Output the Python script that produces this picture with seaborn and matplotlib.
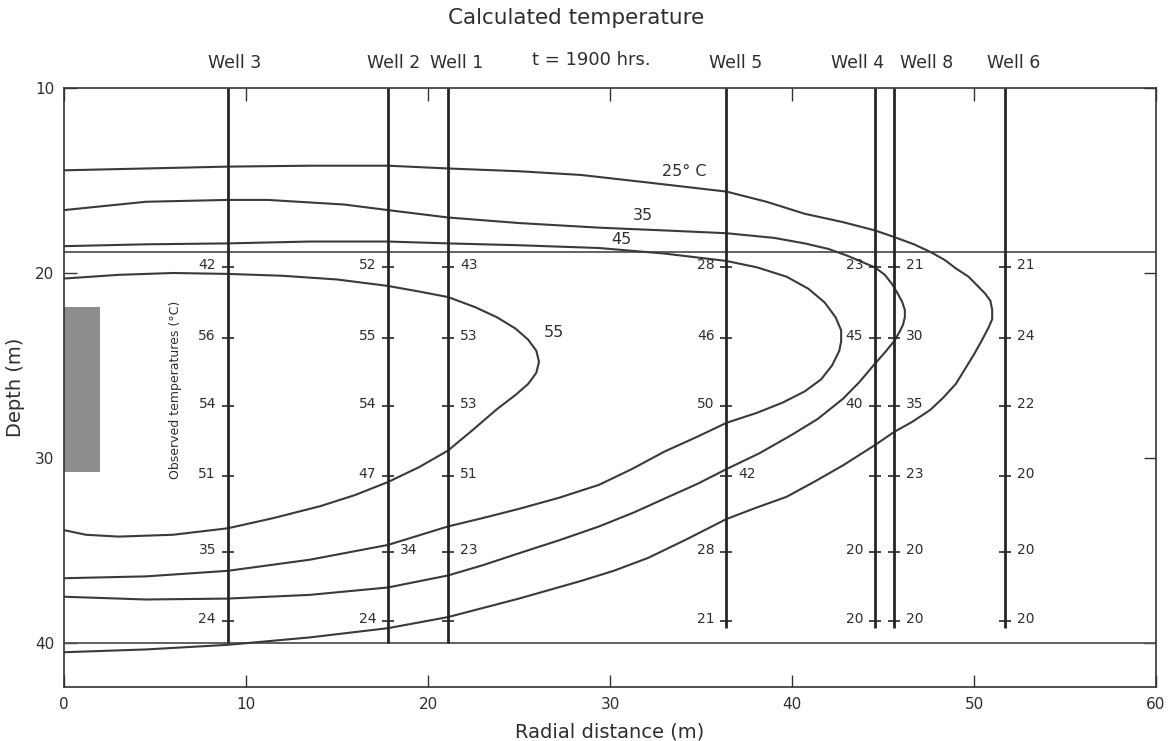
import matplotlib
matplotlib.use("Agg")
import matplotlib.pyplot as plt
import matplotlib.transforms as mtransforms
from matplotlib.patches import Rectangle
import pandas as pd
import seaborn as sns

# ---------------- data ----------------
well_names = ["Well 3", "Well 2", "Well 1", "Well 5", "Well 4", "Well 8", "Well 6"]
well_x = [9.0, 17.8, 21.1, 36.4, 44.56, 45.6, 51.7]
well_bottom = [40.0, 40.0, 40.0, 39.2, 39.2, 39.2, 39.2]
well_label_x = [9.4, 18.1, 21.6, 36.9, 43.6, 47.4, 52.2]

obs_depth = [19.7, 23.5, 27.2, 31.0, 35.1, 38.8]
obs_w3 = [42, 56, 54, 51, 35, 24]
obs_w2 = [52, 55, 54, 47, 34, 24]
obs_w1 = [43, 53, 53, 51, 23, None]
obs_w5 = [28, 46, 50, 42, 28, 21]
obs_w4 = [23, 45, 40, None, 20, 20]
obs_w8 = [21, 30, 35, 23, 20, 20]
obs_w6 = [21, 24, 22, 20, 20, 20]
side_w3 = ["L", "L", "L", "L", "L", "L"]
side_w2 = ["L", "L", "L", "L", "R", "L"]
side_w1 = ["R", "R", "R", "R", "R", "R"]
side_w5 = ["L", "L", "L", "R", "L", "L"]
side_w4 = ["L", "L", "L", "L", "L", "L"]
side_w8 = ["R", "R", "R", "R", "R", "R"]
side_w6 = ["R", "R", "R", "R", "R", "R"]

# calculated isotherms (x = radial distance, depth)
c25_x = [0, 4.5, 9.0, 13.5, 17.8, 21.1, 25.0, 28.4, 32.0, 36.4, 38.6, 40.7, 42.8, 44.56,
         45.6, 46.7, 47.6, 48.4, 49.0, 49.7, 50.2, 50.6, 50.9, 51.0, 51.0, 50.8, 50.4,
         50.0, 49.5, 49.0, 48.3, 47.6, 46.6, 45.6, 44.56, 42.8, 41.2, 39.7, 38.0, 36.4,
         34.2, 32.1, 30.2, 28.4, 25.0, 21.1, 17.8, 13.5, 9.0, 4.5, 0]
c25_d = [14.45, 14.35, 14.25, 14.2, 14.2, 14.35, 14.5, 14.7, 15.1, 15.6, 16.15, 16.8, 17.25, 17.7,
         18.05, 18.45, 18.86, 19.3, 19.75, 20.2, 20.7, 21.1, 21.5, 22.0, 22.5, 22.95, 23.7,
         24.4, 25.2, 26.0, 26.75, 27.4, 28.05, 28.6, 29.3, 30.4, 31.3, 32.1, 32.7, 33.3,
         34.4, 35.4, 36.1, 36.65, 37.6, 38.6, 39.2, 39.7, 40.1, 40.35, 40.5]

c35_x = [0, 4.5, 9.0, 11.2, 15.4, 17.8, 21.1, 25.0, 29.4, 33.0, 36.4, 39.0, 40.7, 42.0,
         43.0, 44.56, 45.1, 45.5, 45.8, 46.05, 46.2, 46.2, 46.1, 45.9, 45.6, 45.1, 44.56,
         43.7, 42.8, 41.4, 39.9, 38.2, 36.4, 34.8, 33.1, 31.3, 29.4, 27.2, 25.0, 23.0, 21.1,
         17.8, 13.5, 9.0, 4.5, 0]
c35_d = [16.6, 16.15, 16.05, 16.05, 16.3, 16.6, 17.0, 17.3, 17.55, 17.7, 17.85, 18.1, 18.4, 18.7,
         19.05, 19.7, 20.1, 20.6, 21.1, 21.55, 22.0, 22.4, 22.8, 23.2, 23.7, 24.3, 24.9,
         25.9, 26.8, 27.9, 28.8, 29.75, 30.6, 31.4, 32.15, 32.95, 33.7, 34.45, 35.15, 35.8, 36.35,
         37.0, 37.4, 37.6, 37.65, 37.5]

c45_x = [0, 4.5, 9.0, 13.5, 17.8, 21.1, 25.0, 29.4, 33.0, 36.4, 38.1, 39.7, 40.9, 41.8,
         42.4, 42.7, 42.7, 42.6, 42.2, 41.6, 40.7, 39.5, 38.1, 36.4, 34.8, 33.0, 31.2,
         29.4, 27.2, 25.0, 23.0, 21.1, 17.8, 13.5, 9.0, 4.5, 0]
c45_d = [18.55, 18.45, 18.4, 18.3, 18.3, 18.4, 18.5, 18.65, 18.95, 19.35, 19.7, 20.2, 20.85, 21.6,
         22.4, 23.1, 23.7, 24.2, 25.0, 25.75, 26.4, 27.0, 27.55, 28.1, 28.85, 29.65, 30.6,
         31.45, 32.15, 32.75, 33.25, 33.7, 34.7, 35.5, 36.1, 36.4, 36.5]

c55_x = [0, 3.0, 6.0, 9.0, 12.0, 15.0, 17.8, 19.5, 21.1, 22.6, 23.8, 24.8, 25.5, 25.95,
         26.1, 25.95, 25.5, 24.8, 23.8, 22.5, 21.1, 19.5, 17.8, 16.0, 14.1, 11.5, 9.0,
         6.0, 3.0, 1.2, 0]
c55_d = [20.3, 20.1, 20.0, 20.05, 20.15, 20.35, 20.7, 21.0, 21.3, 21.85, 22.4, 23.0, 23.6, 24.2,
         24.8, 25.4, 26.0, 26.6, 27.35, 28.45, 29.6, 30.5, 31.3, 32.0, 32.6, 33.25, 33.8,
         34.15, 34.25, 34.15, 33.9]

contour_labels = ["25° C", "35", "45", "55"]
contour_label_x = [34.1, 31.8, 30.6, 26.9]
contour_label_d = [14.5, 16.9, 18.2, 23.2]

boundary_depths = [18.86, 40.0]
screen_x = [0.0, 2.0]
screen_depth = [21.84, 30.74]

x_ticks = [0, 10, 20, 30, 40, 50, 60]
y_ticks = [10, 20, 30, 40]

# ---------------- figure ----------------
sns.set_theme(style="white")
plt.rcParams["font.family"] = ["DejaVu Sans"]
ink = "#2e2e2e"
plt.rcParams["text.color"] = ink

W, H = 1169, 741
fig = plt.figure(figsize=(W / 100, H / 100), dpi=100)
ax = fig.add_axes([64 / W, 1 - 687 / H, (1156 - 64) / W, (687 - 88) / H])

# isotherms
frames = []
for name, xs, ds in [("25", c25_x, c25_d), ("35", c35_x, c35_d),
                     ("45", c45_x, c45_d), ("55", c55_x, c55_d)]:
    frames.append(pd.DataFrame({"x": xs, "depth": ds, "iso": name, "k": range(len(xs))}))
iso_df = pd.concat(frames, ignore_index=True)
sns.lineplot(data=iso_df, x="x", y="depth", units="iso", estimator=None, sort=False,
             color="#3a3a3a", lw=1.5, ax=ax, legend=False)

# horizontal boundaries
for d in boundary_depths:
    ax.axhline(d, color="#555555", lw=1.3, zorder=1)

# screened interval
ax.add_patch(Rectangle((screen_x[0], screen_depth[0]), screen_x[1] - screen_x[0],
                       screen_depth[1] - screen_depth[0], facecolor="#8d8d8d",
                       edgecolor="none", zorder=2))

# wells
ax.vlines(well_x, 10, well_bottom, color="#262626", lw=2.0, zorder=3)

obs_all = [obs_w3, obs_w2, obs_w1, obs_w5, obs_w4, obs_w8, obs_w6]
side_all = [side_w3, side_w2, side_w1, side_w5, side_w4, side_w8, side_w6]
tick_x, tick_d = [], []
for wx, vals, sides in zip(well_x, obs_all, side_all):
    for d, v, s in zip(obs_depth, vals, sides):
        tick_x.append(wx)
        tick_d.append(d)
        if v is None:
            continue
        off = -8.5 if s == "L" else 8.5
        ax.annotate(str(v), (wx, d), xytext=(off, 1.5), textcoords="offset points",
                    ha="right" if s == "L" else "left", va="center", fontsize=10,
                    color=ink, zorder=5)
ax.scatter(tick_x, tick_d, marker="_", s=70, color="#262626", linewidths=1.2, zorder=4)

# contour labels
for t, lx, ld in zip(contour_labels, contour_label_x, contour_label_d):
    ax.text(lx, ld, t, ha="center", va="center", fontsize=11.5, color=ink)

ax.text(6.1, 26.3, "Observed temperatures (°C)", rotation=90, ha="center", va="center",
        fontsize=9, color=ink)

# well names and headings
btf = mtransforms.blended_transform_factory(ax.transData, ax.transAxes)
for n, lx in zip(well_names, well_label_x):
    ax.text(lx, 1.042, n, transform=btf, ha="center", va="center", fontsize=12.5, color=ink)
ax.text(29.0, 1.047, "t = 1900 hrs.", transform=btf, ha="center", va="center",
        fontsize=13, color=ink)
fig.text(576 / W, 1 - 18 / H, "Calculated temperature", ha="center", va="center",
         fontsize=15.5, color=ink)

# axes
ax.set_xlim(0, 60)
ax.set_ylim(42.38, 10)
ax.set_xticks(x_ticks)
ax.set_yticks(y_ticks)
ax.tick_params(direction="in", length=9, width=1.0, color="#333333",
               top=True, right=True, bottom=True, left=True,
               labelsize=11, labelcolor=ink, pad=7)
ax.set_xlabel("Radial distance (m)", fontsize=14, labelpad=8, color=ink)
ax.set_ylabel("Depth (m)", fontsize=14, labelpad=7, color=ink)
for sp in ax.spines.values():
    sp.set_visible(True)
    sp.set_color("#333333")
    sp.set_linewidth(1.2)
ax.grid(False)

fig.savefig("out.png", dpi=100)
